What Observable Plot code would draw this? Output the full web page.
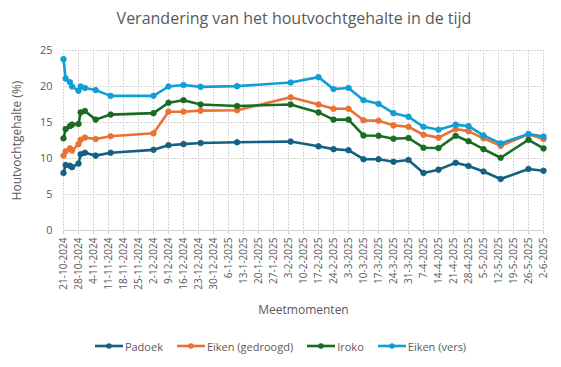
<!DOCTYPE html>
<html><head><meta charset="utf-8">
<script src="https://cdn.jsdelivr.net/npm/d3@7"></script>
<script src="https://cdn.jsdelivr.net/npm/@observablehq/plot@0.6"></script>
<style>
body{margin:0;background:#fff;font-family:"Open Sans",sans-serif;}
#wrap{width:561px;height:367px;position:relative;overflow:hidden;background:#fff}
#title{height:36px;line-height:36px;text-align:center;font-size:16px;color:#595959;white-space:nowrap;padding-left:27px;box-sizing:border-box}
#legend{display:flex;justify-content:center;align-items:center;gap:14px;font-size:11px;color:#595959;height:40px;}
.item{display:flex;align-items:center;gap:2px}
svg.plot{display:block}
</style></head>
<body><div id="wrap"><div id="title">Verandering van het houtvochtgehalte in de tijd</div><div id="chart"></div><div id="legend"></div></div>
<script>
const dates = ["2024-10-21","2024-10-22","2024-10-24","2024-10-25","2024-10-28","2024-10-29","2024-10-31","2024-11-05","2024-11-12","2024-12-02","2024-12-09","2024-12-16","2024-12-24","2025-01-10","2025-02-04","2025-02-17","2025-02-24","2025-03-03","2025-03-10","2025-03-17","2025-03-24","2025-03-31","2025-04-07","2025-04-14","2025-04-22","2025-04-28","2025-05-05","2025-05-13","2025-05-26","2025-06-02"];
const padoek        = [8.0, 9.1, 9.0, 8.8, 9.3, 10.6, 10.8, 10.4, 10.8, 11.2, 11.85, 12.0, 12.15, 12.25, 12.35, 11.7, 11.3, 11.15, 9.9, 9.9, 9.55, 9.8, 8.0, 8.45, 9.4, 8.95, 8.2, 7.15, 8.55, 8.3];
const eikenGedroogd = [10.4, 11.0, 11.4, 11.1, 12.0, 12.6, 12.9, 12.7, 13.1, 13.5, 16.5, 16.5, 16.65, 16.7, 18.5, 17.5, 16.9, 16.9, 15.3, 15.25, 14.6, 14.4, 13.3, 12.9, 14.1, 13.8, 12.8, 11.75, 13.35, 12.7];
const iroko         = [12.8, 14.1, 14.5, 14.7, 14.8, 16.4, 16.6, 15.4, 16.1, 16.3, 17.75, 18.1, 17.5, 17.3, 17.5, 16.4, 15.4, 15.4, 13.2, 13.15, 12.75, 12.85, 11.5, 11.45, 13.15, 12.4, 11.3, 10.1, 12.6, 11.4];
const eikenVers     = [23.8, 21.1, 20.6, 20.0, 19.4, 20.0, 19.8, 19.5, 18.7, 18.7, 20.0, 20.2, 19.95, 20.05, 20.55, 21.3, 19.65, 19.8, 18.1, 17.6, 16.3, 15.8, 14.4, 14.0, 14.7, 14.5, 13.2, 12.1, 13.4, 13.05];
const seriesNames  = ["Padoek","Eiken (gedroogd)","Iroko","Eiken (vers)"];
const seriesColors = ["#156082","#E97132","#196B24","#0F9ED5"];
const yTicks = [0,5,10,15,20,25];
const xTicks = ["2024-10-21","2024-10-28","2024-11-04","2024-11-11","2024-11-18","2024-11-25","2024-12-02","2024-12-09","2024-12-16","2024-12-23","2024-12-30","2025-01-06","2025-01-13","2025-01-20","2025-01-27","2025-02-03","2025-02-10","2025-02-17","2025-02-24","2025-03-03","2025-03-10","2025-03-17","2025-03-24","2025-03-31","2025-04-07","2025-04-14","2025-04-21","2025-04-28","2025-05-05","2025-05-12","2025-05-19","2025-05-26","2025-06-02"];
const xTitle = "Meetmomenten";
const yTitle = "Houtvochtgehalte (%)";

const seriesValues = [padoek, eikenGedroogd, iroko, eikenVers];
const rows = [];
seriesNames.forEach((s, si) => dates.forEach((d, i) => rows.push({series: s, date: new Date(d), value: seriesValues[si][i]})));
const tickDates = xTicks.map(d => new Date(d));
const fmt = d => `${d.getUTCDate()}-${d.getUTCMonth()+1}-${d.getUTCFullYear()}`;

const chart = Plot.plot({
  width: 561, height: 290,
  marginLeft: 63, marginRight: 18, marginTop: 14, marginBottom: 96,
  style: {fontFamily: '"Open Sans", sans-serif', fontSize: "10px", color: "#595959", background: "#fff"},
  x: {type: "utc", domain: [tickDates[0], tickDates[tickDates.length-1]]},
  y: {domain: [0, 25]},
  color: {domain: seriesNames, range: seriesColors},
  marks: [
    Plot.gridY(yTicks.slice(1), {stroke: "#c8c8c8", strokeOpacity: 1, strokeDasharray: "1.5,1.5"}),
    Plot.gridX(tickDates, {stroke: "#c8c8c8", strokeOpacity: 1, strokeDasharray: "1.5,1.5"}),
    Plot.ruleY([0], {stroke: "#d0d0d0"}),
    Plot.axisX(tickDates, {tickFormat: fmt, tickRotate: -90, tickSize: 4, tickPadding: 3, stroke: "#d0d0d0", fill: "#595959", label: null, fontSize: 10}),
    Plot.axisY(yTicks, {tickSize: 0, tickPadding: 11, fill: "#595959", fontSize: 11, label: null}),
    Plot.text([xTitle], {text: d => d, frameAnchor: "bottom", lineAnchor: "top", dy: 75, fontSize: 12, fill: "#595959"}),
    Plot.text([yTitle], {text: d => d, frameAnchor: "left", textAnchor: "middle", lineAnchor: "top", rotate: -90, dx: -51, fontSize: 12, fill: "#595959"}),
    Plot.line(rows, {x: "date", y: "value", z: "series", stroke: "series", strokeWidth: 2.6, curve: "linear"}),
    Plot.dot(rows, {x: "date", y: "value", fill: "series", stroke: "series", r: 2.8, strokeWidth: 0.8})
  ]
});
document.getElementById("chart").appendChild(chart);

const legend = document.getElementById("legend");
seriesNames.forEach((s, i) => {
  const el = document.createElement("div");
  el.className = "item";
  el.innerHTML = `<svg width="28" height="10"><line x1="0" x2="28" y1="5" y2="5" stroke="${seriesColors[i]}" stroke-width="2.6"/><circle cx="14" cy="5" r="2.8" fill="${seriesColors[i]}"/></svg><span>${s}</span>`;
  legend.appendChild(el);
});
</script></body></html>
